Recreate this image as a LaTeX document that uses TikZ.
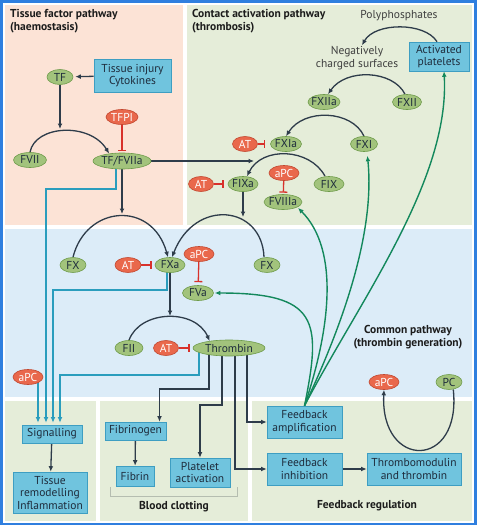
\documentclass[tikz,border=0pt]{standalone}
\usepackage{fontspec}
\setmainfont{PT Sans}
\usetikzlibrary{shapes.geometric,arrows.meta}
\definecolor{frameblue}{HTML}{2F7FDF}
\definecolor{pinkbg}{HTML}{FCE3D6}
\definecolor{greenbg}{HTML}{E5EDD9}
\definecolor{bluebg}{HTML}{DCECF8}
\definecolor{gfill}{HTML}{A2C37C}
\definecolor{gdraw}{HTML}{6E9B4A}
\definecolor{rfill}{HTML}{E9684C}
\definecolor{rdraw}{HTML}{C2472F}
\definecolor{bfill}{HTML}{70C4DE}
\definecolor{bdraw}{HTML}{3E9EC2}
\definecolor{navy}{HTML}{1E2C3C}
\definecolor{darkline}{HTML}{2E3C4A}
\definecolor{inhred}{HTML}{D8312B}
\definecolor{fbgreen}{HTML}{13885C}
\definecolor{sigteal}{HTML}{2A9DBD}
\definecolor{bracketgray}{HTML}{B5BDB0}
\definecolor{titletext}{HTML}{1C1C1C}
\pgfdeclarelayer{bg}
\pgfdeclarelayer{conn}
\pgfsetlayers{bg,conn,main}
\newcommand\mz[1]{\makebox[0pt]{#1}}
\begin{document}
\begin{tikzpicture}[x=1pt,y=-1pt,
  font=\fontsize{11.5}{12.5}\selectfont,
  gn/.style={ellipse, draw=gdraw, fill=gfill, line width=0.6pt, inner sep=0pt,
    minimum height=15pt, minimum width=#1 pt, text=navy},
  rn/.style={ellipse, draw=rdraw, fill=rfill, line width=0.6pt, inner sep=0pt,
    minimum height=15pt, minimum width=#1 pt, text=white},
  bx/.style={rectangle, draw=bdraw, fill=bfill, line width=0.6pt, inner sep=0pt,
    align=center, text=navy},
  ttl/.style={font=\fontsize{11.5}{12.5}\selectfont\bfseries, text=titletext, inner sep=0pt},
  plain/.style={text=titletext!85, inner sep=1pt, align=center},
  darr/.style={draw=darkline, line width=1.3pt, -{Latex[length=5.5pt,width=4.8pt]}},
  inh/.style={draw=inhred, line width=1.3pt, -{Bar[width=8pt,line width=1.3pt]}},
  garr/.style={draw=fbgreen, line width=1.4pt, -{Latex[length=5.5pt,width=4.8pt]}},
  tarr/.style={draw=sigteal, line width=1.3pt, -{Latex[length=5.5pt,width=4.8pt]}},
]
\useasboundingbox (0,0) rectangle (477,525);
\begin{pgfonlayer}{bg}
  \fill[frameblue] (0,0) rectangle (477,525);
  \fill[white] (3,2.5) rectangle (474,522.5);
  \fill[pinkbg] (5,4.5) rectangle (183,225);
  \fill[greenbg] (187,4.5) rectangle (472,225);
  \fill[bluebg] (5,229) rectangle (472,397);
  \fill[greenbg] (5,401) rectangle (96,520.5);
  \fill[greenbg] (100,401) rectangle (248,520.5);
  \fill[greenbg] (252,401) rectangle (472,520.5);
\end{pgfonlayer}

% titles and labels
\node[ttl, anchor=north west, align=left] (t1) at (10,9.5) {Tissue factor pathway\\(haemostasis)};
\node[ttl, anchor=north west, align=left] (t2) at (192,9.5) {Contact activation pathway\\(thrombosis)};
\node[ttl, align=center] (t3) at (408,337) {Common pathway\\(thrombin generation)};
\node[ttl] (t4) at (174,507) {Blood clotting};
\node[ttl] (t5) at (367,506) {Feedback regulation};
\node[plain] (poly) at (399,16) {Polyphosphates};
\node[plain] (neg) at (357,58) {Negatively\\charged surfaces};

% tissue factor pathway
\node[gn=26] (tf) at (60,77) {\mz{TF}};
\node[bx, minimum width=77pt, minimum height=33pt] (tis) at (132.5,75.5) {Tissue injury\\Cytokines};
\node[rn=32] (tfpi) at (122,117) {\mz{TFPI}};
\node[gn=33] (fvii) at (30,160) {\mz{FVII}};
\node[gn=58, minimum height=16pt] (tff) at (122,161) {\mz{TF/FVIIa}};

% contact pathway
\node[bx, minimum width=60pt, minimum height=29pt] (act) at (439,56.5) {Activated\\platelets};
\node[gn=32] (fxiia) at (324,102) {\mz{FXIIa}};
\node[gn=29] (fxii) at (407,102) {\mz{FXII}};
\node[rn=25] (at1) at (245,144) {\mz{AT}};
\node[gn=31] (fxia) at (286,144) {\mz{FXIa}};
\node[gn=27] (fxi) at (364,144) {\mz{FXI}};
\node[rn=30] (apc1) at (284,173) {\mz{aPC}};
\node[rn=25] (at2) at (201,184) {\mz{AT}};
\node[gn=30] (fixa) at (243,184) {\mz{FIXa}};
\node[gn=30] (fix) at (329,184) {\mz{FIX}};
\node[gn=38] (fviiia) at (283,202) {\mz{FVIIIa}};

% common pathway
\node[gn=26] (fxl) at (73,265) {\mz{FX}};
\node[rn=26] (at3) at (128,265) {\mz{AT}};
\node[gn=30] (fxa) at (170,265) {\mz{FXa}};
\node[gn=26] (fxr) at (267,265) {\mz{FX}};
\node[rn=30] (apc2) at (199,254) {\mz{aPC}};
\node[gn=31] (fva) at (198,293) {\mz{FVa}};
\node[gn=28] (fii) at (129,348) {\mz{FII}};
\node[rn=25] (at4) at (166,348) {\mz{AT}};
\node[gn=72, minimum height=16pt] (thr) at (229,348) {\mz{Thrombin}};
\node[rn=30] (apcl) at (28,377) {\mz{aPC}};
\node[rn=30] (apcr) at (384,382) {\mz{aPC}};
\node[gn=26] (pc) at (449,382) {\mz{PC}};

% bottom boxes
\node[bx, minimum width=60pt, minimum height=18pt] (sig) at (52,434) {Signalling};
\node[bx, minimum width=74pt, minimum height=41pt] (rem) at (50,492.5) {Tissue\\remodelling\\Inflammation};
\node[bx, minimum width=61pt, minimum height=18pt] (fbg) at (135.5,431) {Fibrinogen};
\node[bx, minimum width=38pt, minimum height=20pt] (fib) at (135,476) {Fibrin};
\node[bx, minimum width=60pt, minimum height=29pt] (pla) at (200,472.5) {Platelet\\activation};
\node[bx, minimum width=75pt, minimum height=32pt] (fba) at (304.5,422) {Feedback\\amplification};
\node[bx, minimum width=75pt, minimum height=32pt] (fbi) at (304.5,469) {Feedback\\inhibition};
\node[bx, minimum width=94pt, minimum height=32pt] (tmt) at (414,469) {Thrombomodulin\\and thrombin};

% free ends of arrows that point at a reaction arc
\coordinate (e1) at (60,129);
\coordinate (e2) at (254,161);
\coordinate (e3) at (122,214);
\coordinate (e4) at (243,217);
\coordinate (e5) at (170,316);

\begin{pgfonlayer}{conn}
  % dark reaction arrows
  \draw[darr, shorten >=2pt] (tis) -- (tf);
  \draw[darr] (tf) -- (e1);
  \draw[darr] (fvii.north) .. controls (35,125) and (90,122) .. (tff.150);
  \draw[darr] (tff.east) -- (e2);
  \draw[darr] (tff.south) -- (e3);
  \draw[darr] ([xshift=-2pt]act.north) .. controls (425,22) and (375,22) .. ([xshift=5pt]neg.north);
  \draw[darr] ([xshift=-2pt]fxii.north) .. controls (393,70) and (346,68) .. ([xshift=4pt]fxiia.north);
  \draw[darr] (fxi.north) .. controls (352,110) and (304,108) .. (fxia.north);
  \draw[darr] ([xshift=-4pt]fix.north) .. controls (310,148) and (262,146) .. ([xshift=4pt]fixa.north);
  \draw[darr] (fixa) -- (e4);
  \draw[darr] (fxl.north) .. controls (86,205) and (152,200) .. ([xshift=-2pt]fxa.north);
  \draw[darr] ([xshift=-3pt]fxr.north) .. controls (262,205) and (195,198) .. ([xshift=2pt]fxa.north);
  \draw[darr] (fxa) -- (e5);
  \draw[darr] (fii.north) .. controls (140,310) and (195,308) .. (thr.160);
  \draw[darr] (pc.-60) .. controls (462,470) and (380,470) .. (apcr.south);
  % thrombin outputs
  \draw[darr] ([xshift=-20pt]thr.center) -- ++(0,41) -| ([xshift=24pt]fbg.north);
  \draw[darr] ([xshift=-7pt]thr.center) -- ++(0,57) -| (pla.north);
  \draw[darr] ([xshift=6pt]thr.center) |- (fbi.west);
  \draw[darr] ([xshift=18pt]thr.center) |- (fba.west);
  \draw[darr] (sig) -- (rem);
  \draw[darr] (fbg) -- (fib);
  \draw[darr] (fbi) -- (tmt);
  % inhibitions
  \draw[inh, shorten >=1.5pt] (tfpi) -- (tff);
  \draw[inh, shorten >=5pt] (at1) -- (fxia);
  \draw[inh, shorten >=4pt] (at2) -- (fixa);
  \draw[inh, shorten >=1.5pt] (apc1) -- (fviiia);
  \draw[inh, shorten >=3pt] (at3) -- (fxa);
  \draw[inh, shorten >=3pt] (apc2) -- (fva);
  \draw[inh, shorten >=3pt] (at4) -- (thr);
  % feedback amplification
  \draw[garr] (fba.north) .. controls (360,300) and (450,180) .. ([xshift=5pt]act.south);
  \draw[garr, shorten >=4pt] (fba.north) .. controls (345,320) and (375,230) .. ([xshift=3pt]fxi.south);
  \draw[garr, shorten >=1pt] (fba.north) .. controls (330,330) and (340,250) .. (fviiia.-20);
  \draw[garr, shorten >=1pt] (fba.north) .. controls (322,320) and (318,293) .. (fva.east);
  % signalling
  \draw[tarr, shorten >=2pt] ([xshift=10pt]apcl.center) -- ([xshift=-14pt]sig.north);
  \draw[tarr, shorten >=2pt] ([xshift=-6pt]tff.center) -- ++(0,28) -| ([xshift=-6pt]sig.north);
  \draw[tarr, shorten >=2pt] ([xshift=-3pt]fxa.center) -- ++(0,25) -| ([xshift=1pt]sig.north);
  \draw[tarr, shorten >=2pt] ([xshift=-30pt]thr.center) -- ++(0,27) -| ([xshift=8pt]sig.north);
\end{pgfonlayer}

% bracket under blood clotting
\draw[bracketgray, line width=0.8pt] (110,487) -- (110,496.5) -- (237,496.5) -- (237,487);
\end{tikzpicture}
\end{document}
